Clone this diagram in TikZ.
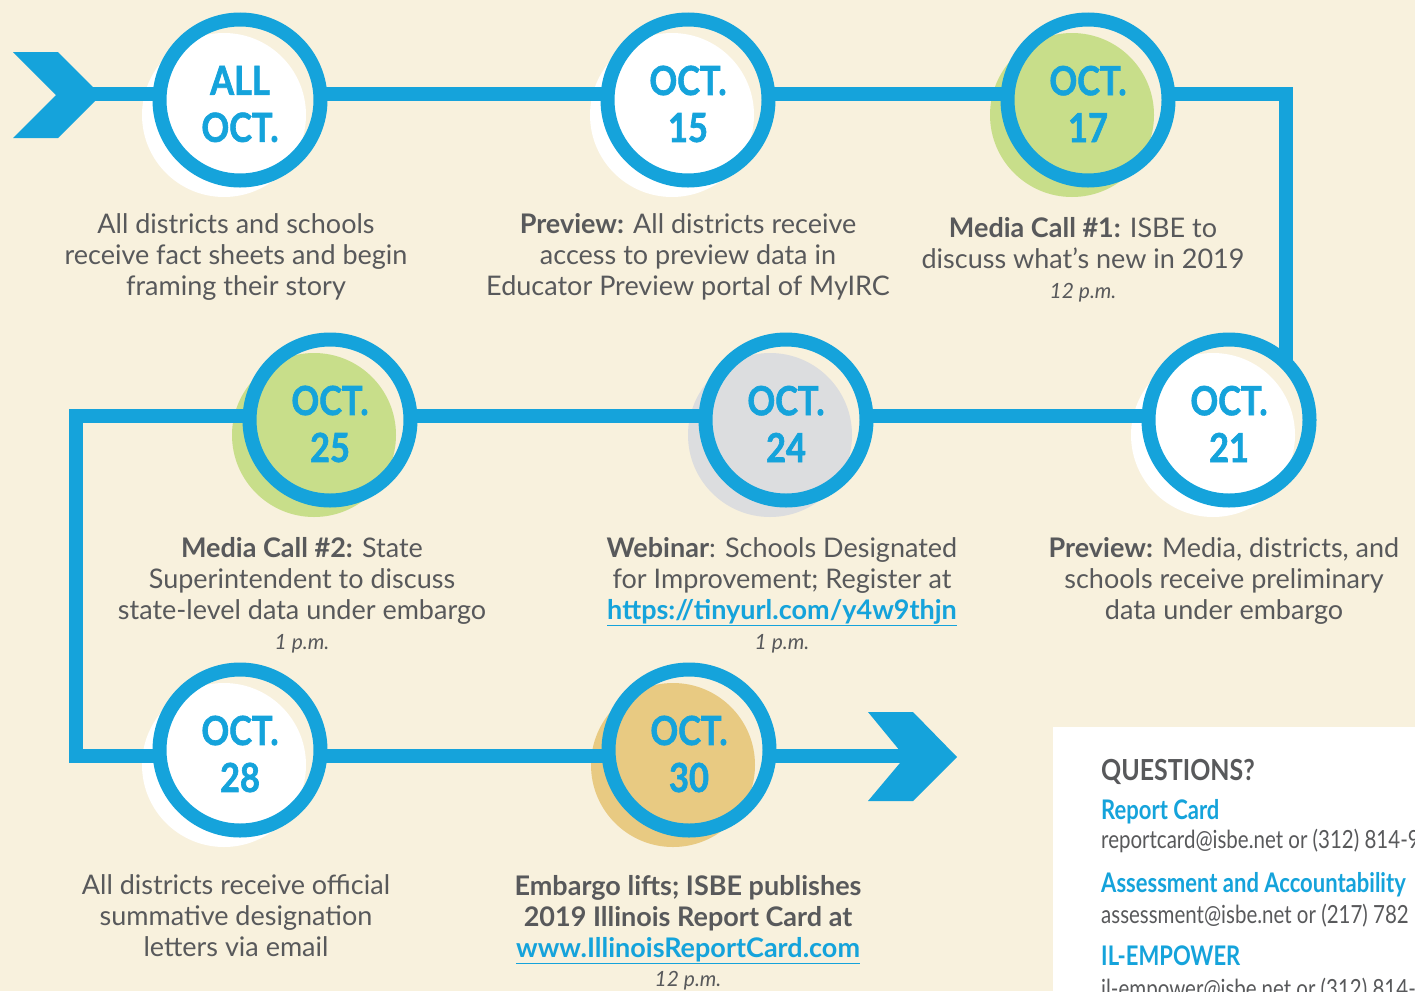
\documentclass[tikz,border=0pt]{standalone}
\usepackage{fontspec}
\setmainfont{Lato}
\newfontfamily\datefont[FakeStretch=0.86, FakeBold=1.6]{Lato}
\newfontfamily\condfont[FakeStretch=0.82]{Lato}
\newfontfamily\condhfont[FakeStretch=0.86]{Lato}
\newfontfamily\condbfont[FakeStretch=0.815]{Lato}
\definecolor{bg}{HTML}{F8F1DD}
\definecolor{tlblue}{HTML}{15A3DB}
\definecolor{tlgreen}{HTML}{C8DE8A}
\definecolor{tlgray}{HTML}{DCDDDF}
\definecolor{tlgold}{HTML}{E8CA82}
\definecolor{txt}{HTML}{58595B}
\newcommand{\FL}{\rule{0pt}{24pt}}
\tikzset{
  ring/.style={circle, draw=tlblue, line width=14pt, minimum size=161pt, inner sep=0pt, outer sep=0pt},
  shade/.style={circle, minimum size=164pt, inner sep=0pt, outer sep=0pt, draw=none},
  datetxt/.style={font=\datefont\bfseries\fontsize{40}{47}\selectfont, text=tlblue, align=center, inner sep=0pt},
  body/.style={font=\fontsize{27}{31}\selectfont, text=txt, align=center, inner sep=0pt, anchor=north},
  timetxt/.style={font=\itshape\fontsize{21}{24}\selectfont, text=txt, inner sep=0pt, anchor=base},
  conn/.style={draw=tlblue, line width=14pt, line join=miter},
  chev/.style={fill=tlblue},
  qhead/.style={font=\condhfont\bfseries\fontsize{29}{32}\selectfont, text=txt, inner sep=0pt, anchor=base west},
  qsub/.style={font=\condbfont\bfseries\fontsize{27}{30}\selectfont, text=tlblue, inner sep=0pt, anchor=base west},
  qline/.style={font=\condfont\fontsize{25}{30}\selectfont, text=txt, inner sep=0pt, anchor=base west}
}
\newcommand{\hd}[1]{\textbf{#1}}
\newcommand{\lk}[1]{\textcolor{tlblue}{\underline{\textbf{#1}}}}
\begin{document}
\begin{tikzpicture}[x=1pt,y=-1pt]
\useasboundingbox (0,0) rectangle (1415,991);
\clip (0,0) rectangle (1415,991);
\fill[bg] (0,0) rectangle (1415,991);

% shadows
\node[shade, fill=white]   (s1) at (224,115) {};
\node[shade, fill=white]   (s2) at (672,115) {};
\node[shade, fill=tlgreen] (s3) at (1072,115) {};
\node[shade, fill=white]   (s4) at (1213,435) {};
\node[shade, fill=tlgray]  (s5) at (770,435) {};
\node[shade, fill=tlgreen] (s6) at (314,435) {};
\node[shade, fill=white]   (s7) at (224,765) {};
\node[shade, fill=tlgold]  (s8) at (673,765) {};

% ring positions
\coordinate (p1) at (240,100);
\coordinate (p2) at (688,100);
\coordinate (p3) at (1088,100);
\coordinate (p4) at (1229,420);
\coordinate (p5) at (786,420);
\coordinate (p6) at (330,420);
\coordinate (p7) at (240,750);
\coordinate (p8) at (689,750);

% arrows
\fill[chev] (13,52) -- (58,52) -- (101,95) -- (58,138) -- (13,138) -- (56,95) -- cycle;
\fill[chev] (868,712) -- (913,712) -- (957,757) -- (913,801) -- (868,801) -- (905,757) -- cycle;
\coordinate (a0) at (56,94);
\coordinate (a1) at (906,756);
\coordinate (k2) at (76,416);
\coordinate (k3) at (76,756);

% rings (anchors)
\path (p1) node[ring, draw=none] (c1) {} (p2) node[ring, draw=none] (c2) {}
      (p3) node[ring, draw=none] (c3) {} (p4) node[ring, draw=none] (c4) {}
      (p5) node[ring, draw=none] (c5) {} (p6) node[ring, draw=none] (c6) {}
      (p7) node[ring, draw=none] (c7) {} (p8) node[ring, draw=none] (c8) {};

% connectors
\draw[conn] (a0) -- ([yshift=6pt]c1.west);
\draw[conn] ([yshift=6pt]c1.east) -- ([yshift=6pt]c2.west);
\draw[conn] ([yshift=6pt]c2.east) -- ([yshift=6pt]c3.west);
\draw[conn] ([yshift=6pt]c3.east) -| (c4.north east);
\draw[conn] ([yshift=4pt]c4.west) -- ([yshift=4pt]c5.east);
\draw[conn] ([yshift=4pt]c5.west) -- ([yshift=4pt]c6.east);
\draw[conn] ([yshift=4pt]c6.west) -- (k2) -- (k3) -- ([yshift=-6pt]c7.west);
\draw[conn] ([yshift=-6pt]c7.east) -- ([yshift=-6pt]c8.west);
\draw[conn] ([yshift=-6pt]c8.east) -- (a1);

% rings drawn
\foreach \n in {1,...,8} { \node[ring] at (c\n) {}; }

% date labels
\node[datetxt] (d1) at ([yshift=-4pt]c1.center) {ALL\\OCT.};
\node[datetxt] (d2) at ([yshift=-4pt]c2.center) {OCT.\\15};
\node[datetxt] (d3) at ([yshift=-4pt]c3.center) {OCT.\\17};
\node[datetxt] (d4) at ([yshift=-4pt]c4.center) {OCT.\\21};
\node[datetxt] (d5) at ([yshift=-4pt]c5.center) {OCT.\\24};
\node[datetxt] (d6) at ([yshift=-4pt]c6.center) {OCT.\\25};
\node[datetxt] (d7) at ([yshift=-4pt]c7.center) {OCT.\\28};
\node[datetxt] (d8) at ([yshift=-4pt]c8.center) {OCT.\\30};

% descriptions
\node[body] (t1) at (236,209) {\FL All districts and schools\\receive fact sheets and begin\\framing their story};
\node[body] (t2) at (688,209) {\FL\hd{Preview:} All districts receive\\access to preview data in\\Educator Preview portal of MyIRC};
\node[body] (t3) at (1083,213) {\FL\hd{Media Call \#1:} ISBE to\\discuss what’s new in 2019};
\node[timetxt] (m3) at (1083,298) {12 p.m.};
\node[body] (t4) at (1224,533) {\FL\hd{Preview:} Media, districts, and\\schools receive preliminary\\data under embargo};
\node[body] (t5) at (782,533) {\FL\hd{Webinar}: Schools Designated\\for Improvement; Register at\\\lk{https://tinyurl.com/y4w9thjn}};
\node[timetxt] (m5) at (782,649) {1 p.m.};
\node[body] (t6) at (302,533) {\FL\hd{Media Call \#2:} State\\Superintendent to discuss\\state-level data under embargo};
\node[timetxt] (m6) at (302,649) {1 p.m.};
\node[body] (t7) at (236,870) {\FL All districts receive official\\summative designation\\letters via email};
\node[body] (t8) at (688,871) {\FL\hd{Embargo lifts; ISBE publishes}\\\hd{2019 Illinois Report Card at}\\\lk{www.IllinoisReportCard.com}};
\node[timetxt] (m8) at (688,986) {12 p.m.};

% questions box
\fill[white] (1053,727) rectangle (1420,1000);
\node[qhead] (q0) at (1101,780) {QUESTIONS?};
\node[qsub]  (q1) at (1101,819) {Report Card};
\node[qline] (q2) at (1101,848) {reportcard@isbe.net or (312) 814-9};
\node[qsub]  (q3) at (1101,892) {Assessment and Accountability};
\node[qline] (q4) at (1101,923) {assessment@isbe.net or (217) 782};
\node[qsub]  (q5) at (1101,965) {IL-EMPOWER};
\node[qline] (q6) at (1101,997) {il-empower@isbe.net or (312) 814-};
\end{tikzpicture}
\end{document}
